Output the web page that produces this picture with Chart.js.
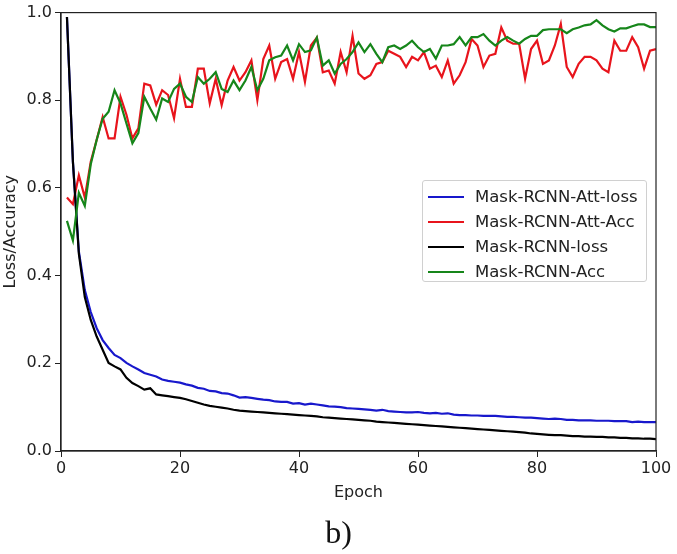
<!DOCTYPE html>
<html>
<head>
<meta charset="utf-8">
<script src="https://cdn.jsdelivr.net/npm/chart.js@4.4.1/dist/chart.umd.min.js"></script>
<style>
  html, body { margin: 0; padding: 0; background: #fff; }
  #wrap { position: relative; width: 677px; height: 554px; }
  #legend {
    position: absolute; left: 422px; top: 180px; width: 225px; height: 102px;
    border: 1px solid #d0d0d0; border-radius: 3px; background: rgba(255,255,255,0.85);
    font-family: "DejaVu Sans", sans-serif; font-size: 16.5px; color: #222;
    box-sizing: border-box; padding-top: 3px;
  }
  #legend .row { position: relative; height: 25px; line-height: 25px; padding-left: 52px; white-space: nowrap; }
  #legend .row span { position: absolute; left: 5px; top: 12px; width: 36px; height: 2px; }
  #caption {
    position: absolute; left: 0; width: 677px; top: 514px; text-align: center;
    font-family: "Liberation Serif", "Times New Roman", serif; font-size: 32px; color: #111;
  }
</style>
</head>
<body>
<div id="wrap">
  <canvas id="myChart" width="677" height="554"></canvas>
  <div id="legend"></div>
  <div id="caption">b)</div>
</div>
<script>
const epochs = Array.from({ length: 100 }, (_, i) => i + 1);

const attLoss = [
  0.99, 0.66, 0.455, 0.367, 0.317, 0.28, 0.253, 0.235, 0.219, 0.212,
  0.201, 0.193, 0.186, 0.178, 0.174, 0.17, 0.163, 0.16, 0.158, 0.156,
  0.152, 0.149, 0.144, 0.142, 0.137, 0.136, 0.132, 0.131, 0.127, 0.122,
  0.123, 0.121, 0.119, 0.117, 0.116, 0.113, 0.112, 0.112, 0.108, 0.109,
  0.106, 0.108, 0.106, 0.104, 0.102, 0.101, 0.100, 0.098, 0.097, 0.096,
  0.095, 0.094, 0.092, 0.094, 0.091, 0.090, 0.089, 0.088, 0.088, 0.089,
  0.087, 0.086, 0.087, 0.085, 0.086, 0.083, 0.082, 0.082, 0.081, 0.081,
  0.080, 0.080, 0.080, 0.079, 0.078, 0.078, 0.077, 0.076, 0.076, 0.075,
  0.074, 0.073, 0.074, 0.073, 0.071, 0.071, 0.070, 0.070, 0.070, 0.069,
  0.069, 0.069, 0.068, 0.068, 0.068, 0.066, 0.067, 0.066, 0.066, 0.066
];

const attAcc = [
  0.578, 0.563, 0.629, 0.578, 0.66, 0.71, 0.762, 0.713, 0.713, 0.808,
  0.767, 0.713, 0.736, 0.838, 0.834, 0.79, 0.823, 0.812, 0.759, 0.849,
  0.785, 0.785, 0.872, 0.872, 0.793, 0.849, 0.789, 0.845, 0.876, 0.845,
  0.864, 0.891, 0.80, 0.894, 0.925, 0.849, 0.887, 0.894, 0.849, 0.91,
  0.842, 0.925, 0.943, 0.864, 0.868, 0.838, 0.91, 0.864, 0.947, 0.861,
  0.849, 0.857, 0.883, 0.887, 0.913, 0.906, 0.899, 0.876, 0.899, 0.891,
  0.91, 0.872, 0.879, 0.853, 0.891, 0.838, 0.857, 0.887, 0.94, 0.925,
  0.876, 0.902, 0.906, 0.966, 0.936, 0.929, 0.929, 0.849, 0.917, 0.936,
  0.883, 0.891, 0.925, 0.974, 0.876, 0.853, 0.883, 0.899, 0.899, 0.891,
  0.872, 0.864, 0.936, 0.913, 0.913, 0.944, 0.921, 0.872, 0.913, 0.917
];

const baseLoss = [
  0.99, 0.66, 0.45, 0.351, 0.299, 0.261, 0.231, 0.201, 0.193, 0.186,
  0.167, 0.155, 0.148, 0.14, 0.143, 0.129, 0.127, 0.125, 0.123, 0.121,
  0.118, 0.114, 0.11, 0.106, 0.103, 0.101, 0.099, 0.097, 0.094, 0.092,
  0.091, 0.090, 0.089, 0.088, 0.087, 0.086, 0.085, 0.084, 0.083, 0.082,
  0.081, 0.080, 0.079, 0.077, 0.076, 0.075, 0.074, 0.073, 0.072, 0.071,
  0.070, 0.069, 0.067, 0.066, 0.065, 0.064, 0.063, 0.062, 0.061, 0.060,
  0.059, 0.058, 0.057, 0.056, 0.055, 0.054, 0.053, 0.052, 0.051, 0.050,
  0.049, 0.048, 0.047, 0.046, 0.045, 0.044, 0.043, 0.042, 0.040, 0.039,
  0.038, 0.037, 0.036, 0.036, 0.035, 0.034, 0.034, 0.033, 0.033, 0.032,
  0.032, 0.031, 0.031, 0.030, 0.030, 0.029, 0.029, 0.028, 0.028, 0.027
];

const baseAcc = [
  0.525, 0.48, 0.589, 0.559, 0.654, 0.71, 0.758, 0.774, 0.823, 0.793,
  0.747, 0.702, 0.725, 0.808, 0.781, 0.756, 0.804, 0.796, 0.826, 0.838,
  0.808, 0.796, 0.853, 0.838, 0.849, 0.864, 0.826, 0.819, 0.845, 0.823,
  0.845, 0.876, 0.823, 0.849, 0.891, 0.898, 0.902, 0.925, 0.891, 0.928,
  0.91, 0.914, 0.943, 0.879, 0.891, 0.861, 0.883, 0.894, 0.91, 0.932,
  0.91, 0.928, 0.906, 0.887, 0.921, 0.925, 0.917, 0.925, 0.936, 0.921,
  0.91, 0.917, 0.895, 0.925, 0.925, 0.928, 0.944, 0.925, 0.944, 0.944,
  0.951, 0.936, 0.925, 0.936, 0.944, 0.936, 0.929, 0.94, 0.947, 0.947,
  0.96, 0.962, 0.962, 0.962, 0.953, 0.962, 0.966, 0.971, 0.973, 0.983,
  0.971, 0.962, 0.957, 0.964, 0.964, 0.969, 0.973, 0.973, 0.967, 0.967
];

const seriesNames = ['Mask-RCNN-Att-loss', 'Mask-RCNN-Att-Acc', 'Mask-RCNN-loss', 'Mask-RCNN-Acc'];
const seriesColors = ['#1818cc', '#e8141c', '#000000', '#16861a'];
const xTicks = [0, 20, 40, 60, 80, 100];
const yTicks = [0.0, 0.2, 0.4, 0.6, 0.8, 1.0];

const allSeries = [attLoss, attAcc, baseLoss, baseAcc];

function toPoints(values) {
    return values.map((v, i) => ({ x: epochs[i], y: v }));
}

// matplotlib-style box around the plot area
const framePlugin = {
    id: 'frame',
    afterDraw(chart) {
        const { ctx, chartArea: a } = chart;
        ctx.save();
        ctx.strokeStyle = '#222';
        ctx.lineWidth = 1.2;
        ctx.strokeRect(a.left, a.top, a.right - a.left, a.bottom - a.top);
        ctx.restore();
    }
};

const font = { family: '"DejaVu Sans", sans-serif', size: 16 };

const ctx = document.getElementById('myChart').getContext('2d');
const myChart = new Chart(ctx, {
    type: 'line',
    data: {
        datasets: allSeries.map((vals, i) => ({
            label: seriesNames[i],
            data: toPoints(vals),
            borderColor: seriesColors[i],
            backgroundColor: seriesColors[i],
            borderWidth: 2.2,
            pointRadius: 0,
            tension: 0,
            fill: false,
            order: 4 - i
        }))
    },
    options: {
        responsive: false,
        animation: false,
        devicePixelRatio: 1,
        layout: { padding: { top: 10, right: 21, bottom: 48, left: 0 } },
        plugins: {
            legend: { display: false },
            tooltip: { enabled: false }
        },
        scales: {
            x: {
                type: 'linear',
                min: 0,
                max: 100,
                afterBuildTicks: (scale) => { scale.ticks = xTicks.map(v => ({ value: v })); },
                afterFit: (scale) => { scale.height = 55; },
                grid: { drawOnChartArea: false, tickLength: 6, color: '#222' },
                border: { color: '#222', width: 1.2 },
                ticks: { color: '#222', font: font, padding: 2, maxRotation: 0 },
                title: { display: true, text: 'Epoch', color: '#222', font: font, padding: { top: 4, bottom: 4 } }
            },
            y: {
                min: 0,
                max: 1.0,
                afterBuildTicks: (scale) => { scale.ticks = yTicks.map(v => ({ value: v })); },
                afterFit: (scale) => { scale.width = 61; },
                grid: { drawOnChartArea: false, tickLength: 6, color: '#222' },
                border: { color: '#222', width: 1.2 },
                ticks: { color: '#222', font: font, padding: 3, callback: (v) => v.toFixed(1) },
                title: { display: true, text: 'Loss/Accuracy', color: '#222', font: font, padding: { top: 1, bottom: 1 } }
            }
        }
    },
    plugins: [framePlugin]
});

const legendEl = document.getElementById('legend');
seriesNames.forEach((name, i) => {
    const row = document.createElement('div');
    row.className = 'row';
    row.innerHTML = '<span style="background:' + seriesColors[i] + '"></span>' + name;
    legendEl.appendChild(row);
});
</script>
</body>
</html>
